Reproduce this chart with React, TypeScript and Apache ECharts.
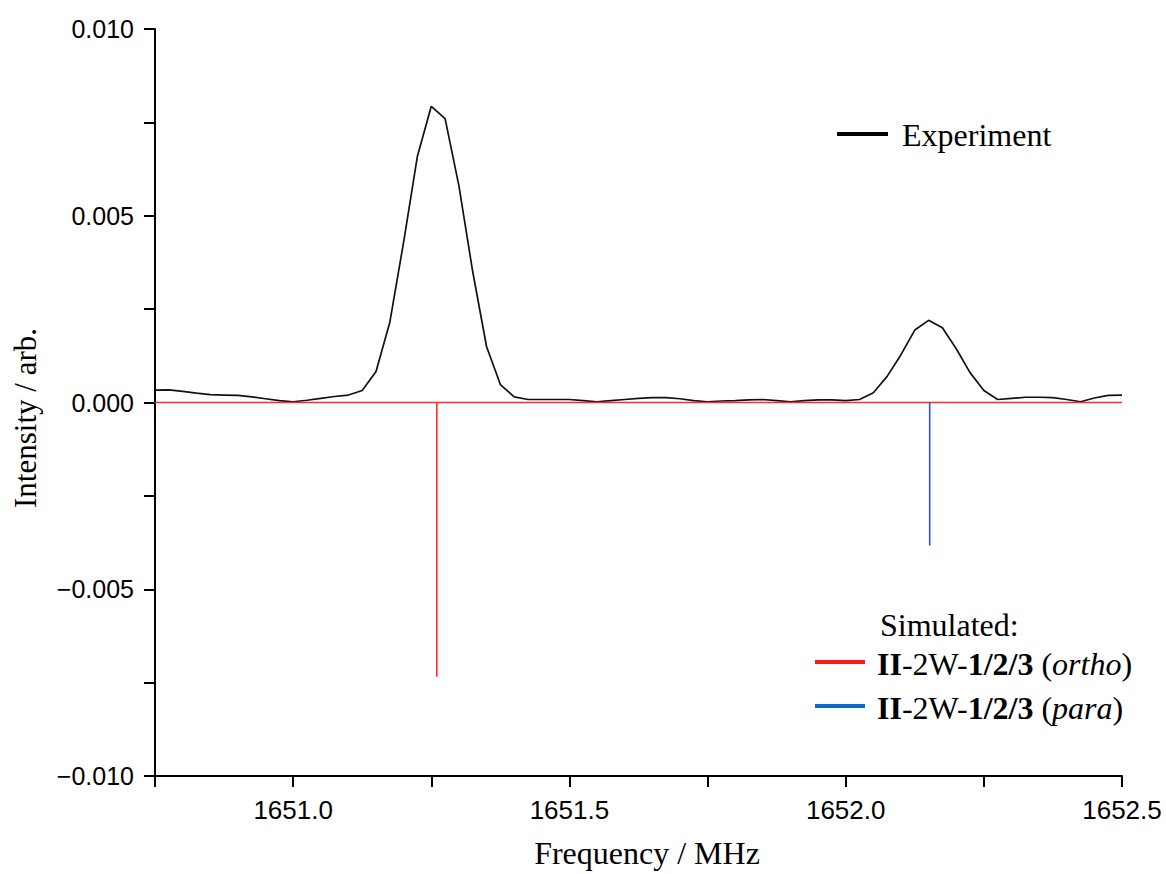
import React, { useEffect, useRef } from "react";
import * as echarts from "echarts";

const frequencies = [
  1650.75, 1650.775, 1650.8, 1650.825, 1650.85, 1650.875, 1650.9, 1650.925, 1650.95, 1650.975,
  1651.0, 1651.025, 1651.05, 1651.075, 1651.1, 1651.125, 1651.15, 1651.175, 1651.2, 1651.225,
  1651.25, 1651.275, 1651.3, 1651.325, 1651.35, 1651.375, 1651.4, 1651.425, 1651.45, 1651.475,
  1651.5, 1651.525, 1651.55, 1651.575, 1651.6, 1651.625, 1651.65, 1651.675, 1651.7, 1651.725,
  1651.75, 1651.775, 1651.8, 1651.825, 1651.85, 1651.875, 1651.9, 1651.925, 1651.95, 1651.975,
  1652.0, 1652.025, 1652.05, 1652.075, 1652.1, 1652.125, 1652.15, 1652.175, 1652.2, 1652.225,
  1652.25, 1652.275, 1652.3, 1652.325, 1652.35, 1652.375, 1652.4, 1652.425, 1652.45, 1652.475,
  1652.5,
];

const experiment = [
  0.00033, 0.00034, 0.0003, 0.00025, 0.00021, 0.0002, 0.00019, 0.00015, 0.0001, 0.00005,
  0.00002, 0.00006, 0.00011, 0.00016, 0.0002, 0.00032, 0.00083, 0.00215, 0.0043, 0.0066,
  0.00793, 0.0076, 0.0058, 0.0035, 0.0015, 0.00048, 0.00015, 0.00008, 0.00008, 0.00008,
  0.00008, 0.00005, 0.00002, 0.00005, 0.00008, 0.00011, 0.00013, 0.00013, 0.0001, 0.00005,
  0.00002, 0.00004, 0.00005, 0.00007, 0.00008, 0.00005, 0.00002, 0.00005, 0.00007, 0.00007,
  0.00005, 0.00008, 0.00026, 0.0007, 0.00128, 0.00194, 0.0022, 0.002, 0.00144, 0.0008,
  0.00032, 0.00008, 0.00011, 0.00014, 0.00014, 0.00013, 0.00008, 0.00002, 0.00012, 0.00019,
  0.0002,
];

// Simulated stick spectra
const orthoFreq = [1650.75, 1651.26, 1651.26, 1651.26, 1652.5];
const orthoIntensity = [0, 0, -0.00734, 0, 0];
const paraFreq = [1652.152, 1652.152];
const paraIntensity = [0, -0.00383];

const xMin = 1650.75;
const xMax = 1652.5;
const yMin = -0.01;
const yMax = 0.01;

const xTitle = "Frequency / MHz";
const yTitle = "Intensity / arb.";

export default function App() {
  const ref = useRef<HTMLDivElement>(null);
  useEffect(() => {
    document.body.style.margin = "0";
    if (!ref.current) return;
    const chart = echarts.init(ref.current, null, { renderer: "svg" });
    const isMultiple = (v: number, step: number) =>
      Math.abs(Math.round(v / step) * step - v) < 1e-9;
    const serif = "'Liberation Serif', 'Times New Roman', serif";
    const sans = "'Liberation Sans', Arial, sans-serif";
    const rich = {
      b: { fontFamily: serif, fontSize: 32, fontWeight: "bold", fill: "#000" },
      i: { fontFamily: serif, fontSize: 32, fontStyle: "italic", fill: "#000" },
    };
    chart.setOption({
      animation: false,
      backgroundColor: "#ffffff",
      grid: { left: 155, right: 44, top: 29, bottom: 98, containLabel: false },
      xAxis: {
        type: "value",
        min: xMin,
        max: xMax,
        interval: 0.25,
        axisLine: { show: true, onZero: false, lineStyle: { color: "#000", width: 2 } },
        axisTick: { show: true, inside: false, length: 11, lineStyle: { color: "#000", width: 2 } },
        splitLine: { show: false },
        axisLabel: {
          interval: 0,
          margin: 21,
          color: "#000",
          fontFamily: sans,
          fontSize: 26,
          showMinLabel: true,
          showMaxLabel: true,
          formatter: (v: number) => (isMultiple(v, 0.5) ? v.toFixed(1) : ""),
        },
      },
      yAxis: {
        type: "value",
        min: yMin,
        max: yMax,
        interval: 0.0025,
        axisLine: { show: true, onZero: false, lineStyle: { color: "#000", width: 2 } },
        axisTick: { show: true, inside: false, length: 11, lineStyle: { color: "#000", width: 2 } },
        splitLine: { show: false },
        axisLabel: {
          interval: 0,
          margin: 21,
          color: "#000",
          fontFamily: sans,
          fontSize: 25,
          showMinLabel: true,
          showMaxLabel: true,
          formatter: (v: number) =>
            isMultiple(v, 0.005) ? (v < -1e-12 ? "\u2212" + Math.abs(v).toFixed(3) : Math.abs(v).toFixed(3)) : "",
        },
      },
      series: [
        {
          name: "Experiment",
          type: "line",
          data: frequencies.map((f, i) => [f, experiment[i]]),
          showSymbol: false,
          lineStyle: { color: "#111", width: 1.7 },
          z: 2,
        },
        {
          name: "ortho",
          type: "line",
          data: orthoFreq.map((f, i) => [f, orthoIntensity[i]]),
          showSymbol: false,
          lineStyle: { color: "#ff2a2a", width: 1.6 },
          z: 3,
        },
        {
          name: "para",
          type: "line",
          data: paraFreq.map((f, i) => [f, paraIntensity[i]]),
          showSymbol: false,
          lineStyle: { color: "#2a4bff", width: 1.6 },
          z: 3,
        },
      ],
      graphic: [
        {
          type: "text",
          x: 647,
          y: 853,
          style: {
            text: xTitle,
            fontFamily: serif,
            fontSize: 32,
            fill: "#000",
            textAlign: "center",
            textVerticalAlign: "middle",
          },
        },
        {
          type: "text",
          x: 25,
          y: 418,
          rotation: Math.PI / 2,
          style: {
            text: yTitle,
            fontFamily: serif,
            fontSize: 31,
            fill: "#000",
            textAlign: "center",
            textVerticalAlign: "middle",
          },
        },
        {
          type: "line",
          shape: { x1: 837, y1: 134, x2: 888, y2: 134 },
          style: { stroke: "#000", lineWidth: 4 },
        },
        {
          type: "text",
          x: 902,
          y: 135,
          style: {
            text: "Experiment",
            fontFamily: serif,
            fontSize: 32,
            fill: "#000",
            textVerticalAlign: "middle",
          },
        },
        {
          type: "text",
          x: 880,
          y: 625,
          style: {
            text: "Simulated:",
            fontFamily: serif,
            fontSize: 32,
            fill: "#000",
            textVerticalAlign: "middle",
          },
        },
        {
          type: "line",
          shape: { x1: 815, y1: 662, x2: 865, y2: 662 },
          style: { stroke: "#ff1a1a", lineWidth: 4 },
        },
        {
          type: "text",
          x: 877,
          y: 664,
          style: {
            text: "{b|II}-2W-{b|1/2/3} ({i|ortho})",
            fontFamily: serif,
            fontSize: 32,
            fill: "#000",
            textVerticalAlign: "middle",
            rich,
          },
        },
        {
          type: "line",
          shape: { x1: 815, y1: 706, x2: 865, y2: 706 },
          style: { stroke: "#0a6cc8", lineWidth: 4 },
        },
        {
          type: "text",
          x: 877,
          y: 708,
          style: {
            text: "{b|II}-2W-{b|1/2/3} ({i|para})",
            fontFamily: serif,
            fontSize: 32,
            fill: "#000",
            textVerticalAlign: "middle",
            rich,
          },
        },
      ],
    });
    return () => chart.dispose();
  }, []);
  return <div ref={ref} style={{ width: 1166, height: 874 }} />;
}
